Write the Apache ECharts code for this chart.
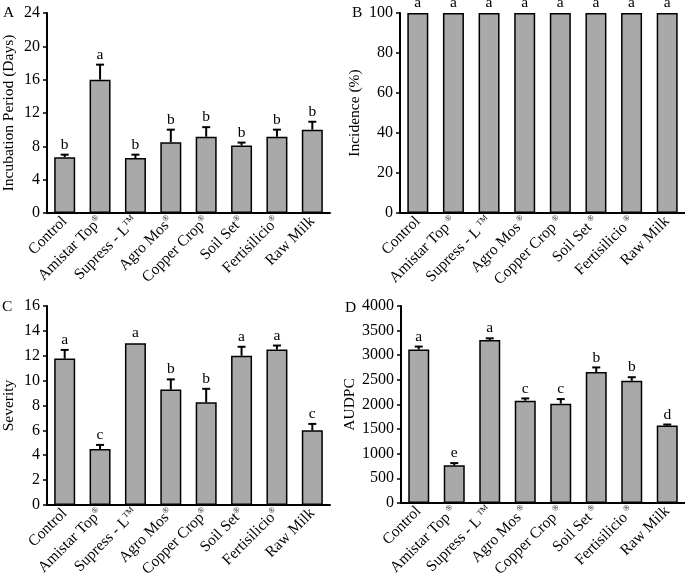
<!DOCTYPE html>
<html><head><meta charset="utf-8">
<script src="https://cdn.jsdelivr.net/npm/echarts@6/dist/echarts.min.js"></script>
<style>html,body{margin:0;padding:0;background:#fff}#c{width:685px;height:580px}</style>
</head><body><div id="c"></div>
<script>
// ---- data ----
const categories = ['Control', 'Amistar Top', 'Supress - L', 'Agro Mos', 'Copper Crop', 'Soil Set', 'Fertisilicio', 'Raw Milk'];
const categoryMarks = ['', '®', 'TM', '®', '®', '®', '®', ''];

const incubationMean = [6.7, 16.0, 6.6, 8.5, 9.15, 8.1, 9.15, 10.0];
const incubationErr = [0.3, 1.8, 0.4, 1.5, 1.15, 0.35, 0.85, 0.95];
const incubationLetters = ['b', 'a', 'b', 'b', 'b', 'b', 'b', 'b'];
const incubationTicks = [0, 24, 4];

const incidenceMean = [100, 100, 100, 100, 100, 100, 100, 100];
const incidenceErr = [0, 0, 0, 0, 0, 0, 0, 0];
const incidenceLetters = ['a', 'a', 'a', 'a', 'a', 'a', 'a', 'a'];
const incidenceTicks = [0, 100, 20];

const severityMean = [11.77, 4.5, 13.0, 9.28, 8.26, 12.0, 12.5, 6.0];
const severityErr = [0.7, 0.33, 0, 0.82, 1.08, 0.72, 0.32, 0.52];
const severityLetters = ['a', 'c', 'a', 'b', 'b', 'a', 'a', 'c'];
const severityTicks = [0, 16, 2];

const audpcMean = [3116, 762, 3310, 2076, 2016, 2659, 2480, 1572];
const audpcErr = [60, 46, 33, 46, 93, 93, 73, 20];
const audpcLetters = ['a', 'e', 'a', 'c', 'c', 'b', 'b', 'd'];
const audpcTicks = [0, 4000, 500];

// ---- layout ----
const FONT = '"Liberation Serif", "Times New Roman", serif';
const panels = [
  { tag: 'A', name: 'Incubation Period (Days)', mean: incubationMean, err: incubationErr, letters: incubationLetters, ticks: incubationTicks,
    grid: { left: 42, top: 13, width: 288, height: 200 }, nameGap: 30, tagPos: [3, 5] },
  { tag: 'B', name: 'Incidence (%)', mean: incidenceMean, err: incidenceErr, letters: incidenceLetters, ticks: incidenceTicks,
    grid: { left: 400, top: 13, width: 287, height: 200 }, nameGap: 37, tagPos: [352, 5] },
  { tag: 'C', name: 'Severity', mean: severityMean, err: severityErr, letters: severityLetters, ticks: severityTicks,
    grid: { left: 42, top: 306, width: 288, height: 202 }, nameGap: 30, tagPos: [2, 299] },
  { tag: 'D', name: 'AUDPC', mean: audpcMean, err: audpcErr, letters: audpcLetters, ticks: audpcTicks,
    grid: { left: 401, top: 306, width: 285, height: 202 }, nameGap: 40, tagPos: [345, 300] }
];

const grids = [], xAxes = [], yAxes = [], series = [], graphics = [];
panels.forEach((p, i) => {
  grids.push(Object.assign({ containLabel: false }, p.grid));
  xAxes.push({
    type: 'category', gridIndex: i, data: categories,
    axisLine: { lineStyle: { color: '#000', width: 2 } },
    axisTick: { alignWithLabel: true, length: 5, lineStyle: { color: '#000', width: 1.5 } },
    axisLabel: {
      rotate: 45, margin: 6, interval: 0, color: '#000',
      formatter: (v, idx) => '{n|' + v + '}' + (categoryMarks[idx] ? '{s|' + categoryMarks[idx] + '}' : ''),
      rich: {
        n: { fontFamily: FONT, fontSize: 15.5, color: '#000' },
        s: { fontFamily: FONT, fontSize: 8, color: '#000', verticalAlign: 'top', padding: (i % 2 === 1) ? [0, 0, 0, 3] : [0, 0, 0, 0] }
      }
    }
  });
  yAxes.push({
    type: 'value', gridIndex: i, min: p.ticks[0], max: p.ticks[1], interval: p.ticks[2],
    name: p.name, nameLocation: 'middle', nameGap: p.nameGap, nameRotate: 90,
    nameTextStyle: { fontFamily: FONT, fontSize: 15.5, color: '#000' },
    axisLine: { show: true, lineStyle: { color: '#000', width: 2 } },
    axisTick: { show: true, length: 4, lineStyle: { color: '#000', width: 1.5 } },
    axisLabel: { fontFamily: FONT, fontSize: 16, color: '#000', margin: 7, formatter: v => String(v) },
    splitLine: { show: false }
  });
  series.push({
    type: 'bar', xAxisIndex: i, yAxisIndex: i, data: p.mean, barWidth: 21,
    itemStyle: { color: '#a9a9a9', borderColor: '#000', borderWidth: 1.5 },
    silent: true, animation: false
  });
  const letters = p.letters;
  series.push({
    type: 'custom', xAxisIndex: i, yAxisIndex: i, clip: false, animation: false, silent: true, z: 5,
    data: p.mean.map((m, k) => [k, m, m + p.err[k]]),
    renderItem: (params, api) => {
      const base = api.coord([api.value(0), api.value(1)]);
      const top = api.coord([api.value(0), api.value(2)]);
      const children = [];
      if (top[1] < base[1] - 0.5) {
        children.push({ type: 'line', shape: { x1: base[0], y1: base[1], x2: top[0], y2: top[1] }, style: { stroke: '#000', lineWidth: 2 } });
        children.push({ type: 'line', shape: { x1: top[0] - 4, y1: top[1], x2: top[0] + 4, y2: top[1] }, style: { stroke: '#000', lineWidth: 2 } });
      }
      children.push({ type: 'text', x: top[0], y: top[1] - 2,
        style: { text: letters[params.dataIndex], fill: '#000', fontFamily: FONT, fontSize: 15.5, align: 'center', verticalAlign: 'bottom' } });
      return { type: 'group', children };
    }
  });
  graphics.push({ type: 'text', left: p.tagPos[0], top: p.tagPos[1], style: { text: p.tag, fill: '#000', font: '15.5px ' + FONT } });
});

const chart = echarts.init(document.getElementById('c'), null, { renderer: 'canvas' });
chart.setOption({
  backgroundColor: '#fff',
  animation: false,
  grid: grids, xAxis: xAxes, yAxis: yAxes, series: series, graphic: graphics
});
</script>
</body></html>
